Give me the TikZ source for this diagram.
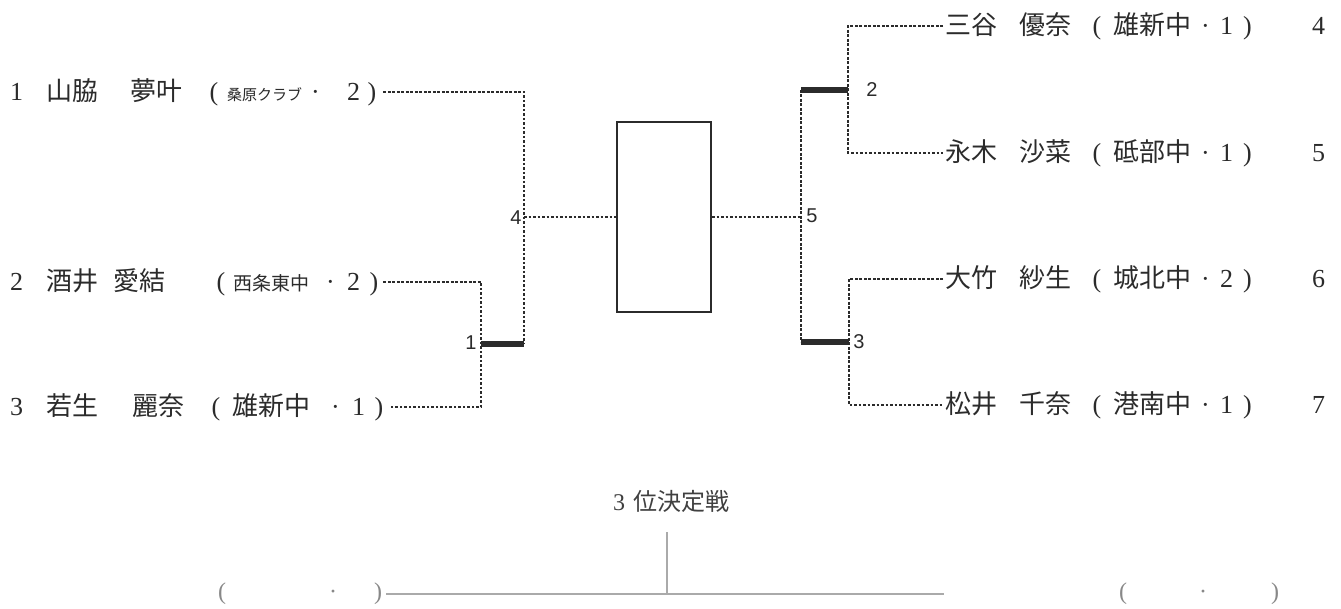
\documentclass[tikz,border=0pt]{standalone}
\usepackage{fontspec}
\setmainfont{Liberation Serif}
\newfontfamily\jp{Noto Sans CJK JP}
\newfontfamily\labfont{Liberation Sans}
\definecolor{ink}{HTML}{2B2B2B}
\definecolor{faint}{HTML}{AAAAAA}
\definecolor{greytext}{HTML}{888888}
% one piece of an entry, set at an offset from the entry's left end
\newcommand\piece[2]{\makebox[0pt][l]{\hspace*{#1pt}#2}}
\newcommand\jpsmall[2]{{\jp\fontsize{#1}{#1}\selectfont #2}}
\tikzset{
  entry/.style={inner sep=0pt, anchor=west, text=ink, font=\fontsize{26}{30}\selectfont},
  dotline/.style={draw=ink, line width=2.8pt, dash pattern=on 2.6pt off 1.9pt},
  winbar/.style={draw=ink, line width=6.5pt},
  roundno/.style={inner sep=0pt, text=ink, font=\labfont\fontsize{20}{20}\selectfont},
}
\begin{document}
\begin{tikzpicture}[x=1pt,y=-1pt]
\useasboundingbox[fill=white] (0,0) rectangle (1341,609);
% left side
\node[entry] (p1) at (10,92) {\piece{0}{1}\piece{36}{\jp 山脇}\piece{120}{\jp 夢叶}\piece{199.5}{(}\piece{217}{\jpsmall{15}{桑原クラブ}}\piece{301}{·}\piece{337}{2}\piece{357.5}{)}\hspace*{373pt}};
\node[entry] (p2) at (10,282) {\piece{0}{2}\piece{36}{\jp 酒井}\piece{103}{\jp 愛結}\piece{206.5}{(}\piece{223}{\jpsmall{19}{西条東中}}\piece{316}{·}\piece{337}{2}\piece{359.5}{)}\hspace*{373pt}};
\node[entry] (p3) at (10,407) {\piece{0}{3}\piece{36.7}{\jp 若生}\piece{122.7}{\jp 麗奈}\piece{201.5}{(}\piece{222.7}{\jp 雄新中}\piece{321}{·}\piece{342}{1}\piece{364.5}{)}\hspace*{380pt}};
\coordinate (c1) at (524,92);
\coordinate (b1) at (524,344);
\coordinate (j4) at (524,217);
\coordinate (c2) at (481,282);
\coordinate (c3) at (481,407);
\coordinate (m1) at (481,344);
\draw[dotline] (p1.east) -- (c1) -- (b1);
\draw[dotline] (p2.east) -- (c2) -- (c3) -- (p3.east);
\draw[winbar] (m1) -- (b1);
\node[roundno] (no1) at (471,343) {1};
\node[roundno] (no4) at (516,218) {4};
% final
\node[draw=ink, line width=2.4pt, minimum width=94pt, minimum height=190pt, inner sep=0pt] (final) at (664,217) {};
\draw[dotline] (j4) -- (final.west);
% right side
\node[entry] (q4) at (943,26) {\piece{2.7}{\jp 三谷}\piece{76.7}{\jp 優奈}\piece{149.5}{(}\piece{170.7}{\jp 雄新中}\piece{258}{·}\piece{277}{1}\piece{300}{)}\piece{369}{4}\hspace*{382pt}};
\node[entry] (q5) at (943,153) {\piece{2.7}{\jp 永木}\piece{76.7}{\jp 沙菜}\piece{149.5}{(}\piece{170.7}{\jp 砥部中}\piece{258}{·}\piece{277}{1}\piece{300}{)}\piece{369}{5}\hspace*{382pt}};
\node[entry] (q6) at (943,279) {\piece{2.7}{\jp 大竹}\piece{76.7}{\jp 紗生}\piece{149.5}{(}\piece{170.7}{\jp 城北中}\piece{258}{·}\piece{277}{2}\piece{300}{)}\piece{369}{6}\hspace*{382pt}};
\node[entry] (q7) at (943,405) {\piece{2.7}{\jp 松井}\piece{76.7}{\jp 千奈}\piece{149.5}{(}\piece{170.7}{\jp 港南中}\piece{258}{·}\piece{277}{1}\piece{300}{)}\piece{369}{7}\hspace*{382pt}};
\coordinate (r4) at (848,26);
\coordinate (r5) at (848,153);
\coordinate (m2) at (848,90);
\coordinate (s2) at (801,90);
\coordinate (j5) at (801,217);
\coordinate (s3) at (801,342);
\coordinate (m3) at (849,342);
\coordinate (r6) at (849,279);
\coordinate (r7) at (849,405);
\draw[dotline] (q4.west) -- (r4) -- (r5) -- (q5.west);
\draw[dotline] (q6.west) -- (r6) -- (r7) -- (q7.west);
\draw[dotline] (s2) -- (s3);
\draw[winbar] (s2) -- (m2);
\draw[winbar] (s3) -- (m3);
\draw[dotline] (final.east) -- (j5);
\node[roundno] (no2) at (872,90) {2};
\node[roundno] (no5) at (812,216) {5};
\node[roundno] (no3) at (859,342) {3};
% third place match
\node[inner sep=0pt, text=ink!90, font=\fontsize{24}{28}\selectfont] (third) at (671,501) {3\hspace{8pt}{\jp 位決定戦}};
\node[entry, text=greytext, font=\fontsize{24}{28}\selectfont] (lp) at (215,594) {\piece{3}{(}\piece{114}{·}\piece{159}{)}\hspace*{171pt}};
\node[entry, text=greytext, font=\fontsize{24}{28}\selectfont] (rp) at (1115,594) {\piece{4}{(}\piece{84}{·}\piece{156}{)}\hspace*{170pt}};
\coordinate (vtop) at (667,532);
\coordinate (vbot) at (667,594);
\coordinate (lineend) at (944,594);
\draw[faint, line width=1.5pt] (lp.east) -- (lineend);
\draw[faint, line width=1.5pt] (vtop) -- (vbot);
\end{tikzpicture}
\end{document}
